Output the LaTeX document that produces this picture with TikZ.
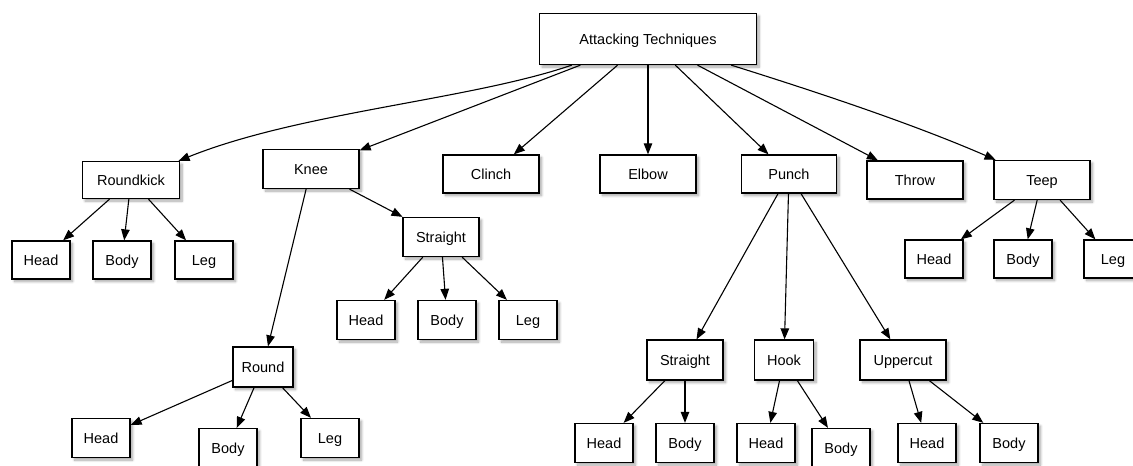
\documentclass[tikz,border=0pt]{standalone}
\usepackage{fontspec}
\setmainfont{Liberation Sans}
\usepackage{tikz}
\usetikzlibrary{positioning, shapes, arrows.meta, calc, shadows.blur}

\begin{document}
\begin{tikzpicture}[x=1pt, y=-1pt, >={Triangle[length=11pt, width=8.5pt]}, font=\fontsize{14.5}{16}\selectfont]
    \tikzstyle{box} = [rectangle, draw, fill=white, line width=1.3pt, inner sep=0pt, text height=10.5pt, text depth=0.5pt, minimum height=38pt, minimum width=96pt, blur shadow={shadow xshift=2.5pt, shadow yshift=-2.5pt, shadow blur steps=8, shadow blur radius=2.5pt, shadow opacity=35}]
    \tikzstyle{leaf} = [box, minimum width=58pt]
    \tikzstyle{link} = [->, line width=1.1pt]

    \useasboundingbox (0,0) rectangle (1133,466);

    % top
    \node[box, minimum width=217pt, minimum height=51pt] (root) at (648,39) {Attacking Techniques};

    % first row
    \node[box, minimum width=97pt, minimum height=37pt] (roundkick) at (131,180) {Roundkick};
    \node[box, minimum height=39pt] (knee) at (311,169) {Knee};
    \node[box] (clinch) at (491,174) {Clinch};
    \node[box] (elbow) at (648,174) {Elbow};
    \node[box, minimum width=95pt] (punch) at (789,174) {Punch};
    \node[box] (throw) at (915,180) {Throw};
    \node[box, minimum height=39pt] (teep) at (1042,180) {Teep};

    % roundkick
    \node[leaf] (rkhead) at (41,260) {Head};
    \node[leaf] (rkbody) at (122,260) {Body};
    \node[leaf] (rkleg) at (204,260) {Leg};

    % knee
    \node[box, minimum width=76pt, minimum height=39pt] (kneestraight) at (441,237) {Straight};
    \node[leaf, minimum height=39pt] (kshead) at (366,320) {Head};
    \node[leaf, minimum height=39pt] (ksbody) at (447,320) {Body};
    \node[leaf, minimum height=39pt] (ksleg) at (528,320) {Leg};
    \node[box, minimum width=60pt, minimum height=40pt] (kneeround) at (263,367) {Round};
    \node[leaf, minimum height=39pt] (krhead) at (101,438) {Head};
    \node[leaf, minimum height=39pt] (krbody) at (228,448) {Body};
    \node[leaf, minimum height=39pt] (krleg) at (330,438) {Leg};

    % punch
    \node[box, minimum width=76pt, minimum height=40pt] (punchstraight) at (685,360) {Straight};
    \node[box, minimum width=59pt, minimum height=40pt] (hook) at (784,360) {Hook};
    \node[box, minimum width=86pt, minimum height=40pt] (uppercut) at (903,360) {Uppercut};
    \node[leaf, minimum height=39pt] (pshead) at (604,443) {Head};
    \node[leaf, minimum height=39pt] (psbody) at (685,443) {Body};
    \node[leaf, minimum height=39pt] (hkhead) at (766,443) {Head};
    \node[leaf, minimum height=39pt] (hkbody) at (841,448) {Body};
    \node[leaf, minimum height=39pt] (uchead) at (927,443) {Head};
    \node[leaf, minimum height=39pt] (ucbody) at (1009,443) {Body};

    % teep
    \node[leaf] (tphead) at (934,259) {Head};
    \node[leaf] (tpbody) at (1023,259) {Body};
    \node[leaf] (tpleg) at (1113,259) {Leg};

    % links
    \draw[link] (root) .. controls (470,100) and (300,112) .. (roundkick);
    \draw[link] (root) -- (knee);
    \draw[link] (root) -- (clinch);
    \draw[link] (root) -- (elbow);
    \draw[link] (root) -- (punch);
    \draw[link] (root) -- (throw);
    \draw[link] (root) .. controls (820,93) and (913,124) .. (teep);

    \draw[link] (roundkick) -- (rkhead);
    \draw[link] (roundkick) -- (rkbody);
    \draw[link] (roundkick) -- (rkleg);

    \draw[link] (knee) -- (kneestraight);
    \draw[link] (knee) -- (kneeround);
    \draw[link] (kneestraight) -- (kshead);
    \draw[link] (kneestraight) -- (ksbody);
    \draw[link] (kneestraight) -- (ksleg);
    \draw[link] (kneeround) -- (krhead);
    \draw[link] (kneeround) -- (krbody);
    \draw[link] (kneeround) -- (krleg);

    \draw[link] (punch) -- (punchstraight);
    \draw[link] (punch) -- (hook);
    \draw[link] (punch) -- (uppercut);
    \draw[link] (punchstraight) -- (pshead);
    \draw[link] (punchstraight) -- (psbody);
    \draw[link] (hook) -- (hkhead);
    \draw[link] (hook) -- (hkbody);
    \draw[link] (uppercut) -- (uchead);
    \draw[link] (uppercut) -- (ucbody);

    \draw[link] (teep) -- (tphead);
    \draw[link] (teep) -- (tpbody);
    \draw[link] (teep) -- (tpleg);
\end{tikzpicture}
\end{document}
